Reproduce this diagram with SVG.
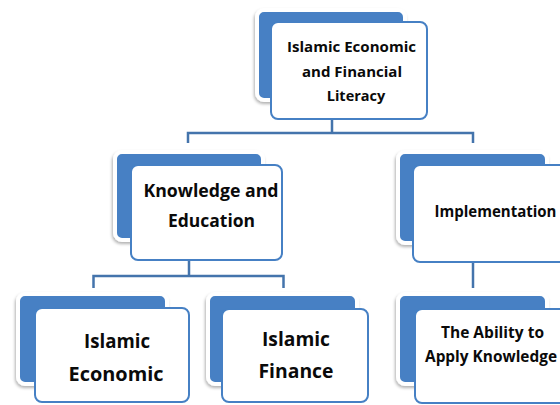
<svg xmlns="http://www.w3.org/2000/svg" width="560" height="405" viewBox="0 0 560 405">
  <style>
    .back { fill: #4680c4; stroke: #ffffff; stroke-width: 4; filter: url(#glow); }
    .front { fill: #ffffff; stroke: #4680c4; stroke-width: 2; }
    .link { fill: none; stroke: #4474ac; stroke-width: 2.5; stroke-linejoin: miter; }
    .t { font-family: "Open Sans", "Liberation Sans", sans-serif; font-weight: 700; fill: #0a0a0a; text-anchor: middle; }
  </style>
  <defs>
    <filter id="glow" x="-10%" y="-10%" width="120%" height="125%">
      <feDropShadow dx="-1" dy="2" stdDeviation="1.6" flood-color="#000000" flood-opacity="0.3"/>
    </filter>
  </defs>
  <rect width="560" height="405" fill="#ffffff"/>

  <!-- connectors -->
  <g id="connectors">
    <path class="link" d="M332,119 V133 M188,143 V133 H473 V143"/>
    <path class="link" d="M189,260 V276 M93.5,288 V276 H283.5 V288"/>
    <path class="link" d="M473,262 V288"/>
  </g>

  <!-- root -->
  <g id="node-literacy">
    <rect class="back" x="257" y="10" width="148" height="90" rx="7"/>
    <rect class="front" x="271" y="22" width="156" height="97" rx="7"/>
    <text class="t" font-size="14.5" x="351.5" y="51.5" textLength="129" lengthAdjust="spacingAndGlyphs">Islamic Economic</text>
    <text class="t" font-size="14.5" x="352" y="77" textLength="100" lengthAdjust="spacingAndGlyphs">and Financial</text>
    <text class="t" font-size="14.5" x="356" y="101">Literacy</text>
  </g>

  <!-- second level -->
  <g id="node-knowledge">
    <rect class="back" x="115" y="152" width="148" height="88" rx="7"/>
    <rect class="front" x="131" y="165" width="151" height="95" rx="7"/>
    <text class="t" font-size="18" x="211" y="197" textLength="135" lengthAdjust="spacingAndGlyphs">Knowledge and</text>
    <text class="t" font-size="18" x="211.5" y="227" textLength="87" lengthAdjust="spacingAndGlyphs">Education</text>
  </g>

  <g id="node-implementation">
    <rect class="back" x="398" y="152" width="149" height="91" rx="7"/>
    <rect class="front" x="413" y="165" width="157" height="97" rx="7"/>
    <text class="t" font-size="15.5" x="495.5" y="217" textLength="122" lengthAdjust="spacingAndGlyphs">Implementation</text>
  </g>

  <!-- third level -->
  <g id="node-economic">
    <rect class="back" x="18" y="294" width="149" height="90" rx="7"/>
    <rect class="front" x="35" y="308" width="154" height="94" rx="7"/>
    <text class="t" font-size="19.5" x="117" y="348" textLength="66" lengthAdjust="spacingAndGlyphs">Islamic</text>
    <text class="t" font-size="19.5" x="116" y="381" textLength="95" lengthAdjust="spacingAndGlyphs">Economic</text>
  </g>

  <g id="node-finance">
    <rect class="back" x="208" y="294" width="149" height="90" rx="7"/>
    <rect class="front" x="222" y="309" width="146" height="93" rx="7"/>
    <text class="t" font-size="19.5" x="296" y="346" textLength="68" lengthAdjust="spacingAndGlyphs">Islamic</text>
    <text class="t" font-size="19.5" x="296" y="378" textLength="75" lengthAdjust="spacingAndGlyphs">Finance</text>
  </g>

  <g id="node-ability">
    <rect class="back" x="398" y="294" width="149" height="90" rx="7"/>
    <rect class="front" x="415" y="309" width="157" height="94" rx="7"/>
    <text class="t" font-size="15.5" x="492.5" y="338" textLength="103" lengthAdjust="spacingAndGlyphs">The Ability to</text>
    <text class="t" font-size="15.5" x="491" y="362" textLength="132" lengthAdjust="spacingAndGlyphs">Apply Knowledge</text>
  </g>
</svg>
